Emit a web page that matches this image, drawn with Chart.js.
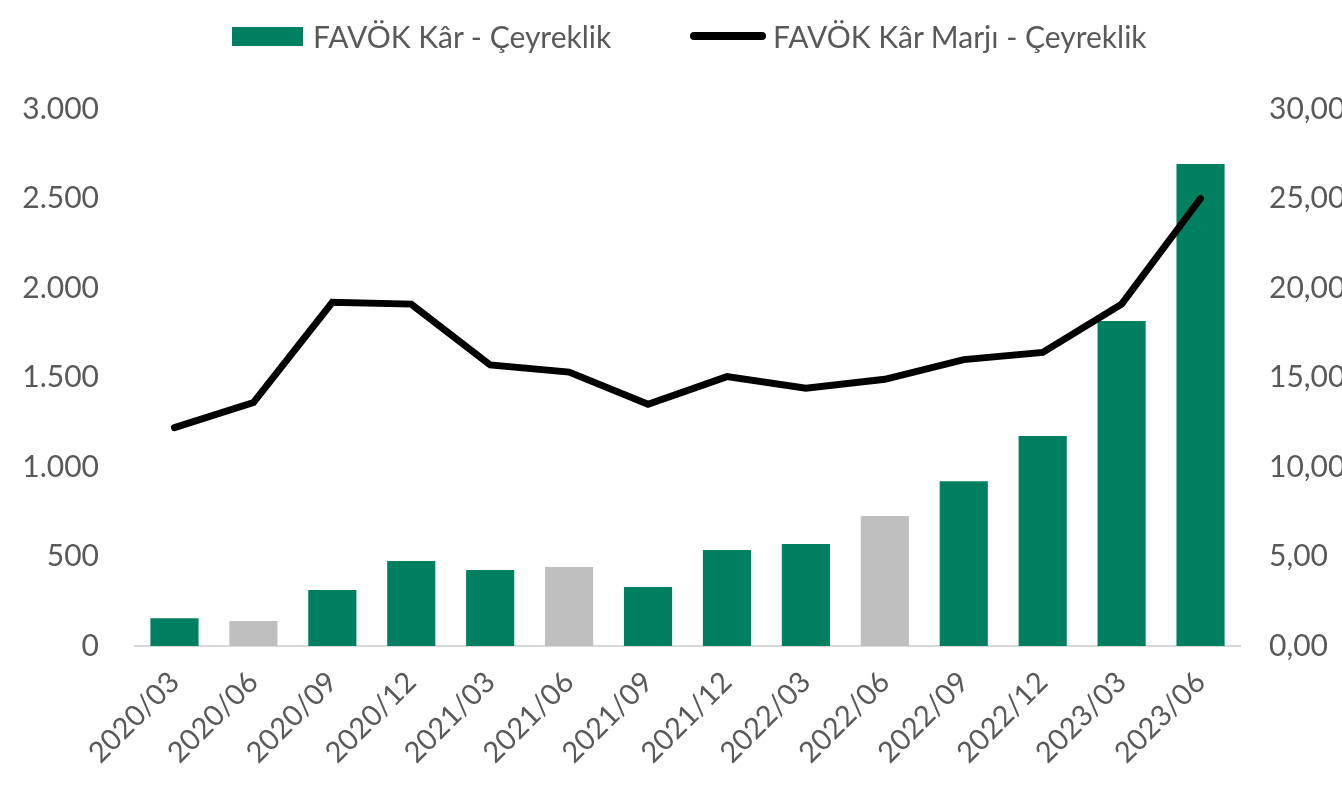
<!DOCTYPE html>
<html><head><meta charset="utf-8">
<script src="https://cdn.jsdelivr.net/npm/chart.js@4.4.0/dist/chart.umd.min.js"></script>
<style>
html,body{margin:0;padding:0;background:#fff;overflow:hidden}
#wrap{position:relative;width:1342px;height:785px}
#legend{position:absolute;top:0;left:0;width:1342px;height:70px;font-family:Lato,"Open Sans",sans-serif;font-size:30px;color:#595959}
.item{position:absolute;top:18px;height:36px;display:flex;align-items:center;white-space:nowrap}
</style></head><body>
<div id="wrap"><canvas id="c" width="1342" height="785"></canvas><div id="legend"></div></div>
<script>
// ---- data ----
const quarters = ['2020/03','2020/06','2020/09','2020/12','2021/03','2021/06','2021/09','2021/12','2022/03','2022/06','2022/09','2022/12','2023/03','2023/06'];
const favokKar = [155, 140, 313, 475, 425, 441, 330, 536, 570, 726, 920, 1173, 1815, 2693];
const favokMarj = [12.2, 13.6, 19.2, 19.1, 15.7, 15.3, 13.5, 15.05, 14.4, 14.9, 16.0, 16.4, 19.1, 25.0];
const grayQuarters = ['2020/06', '2021/06', '2022/06'];
const leftTickLabels = ['0', '500', '1.000', '1.500', '2.000', '2.500', '3.000'];
const rightTickLabels = ['0,00', '5,00', '10,00', '15,00', '20,00', '25,00', '30,00'];
const seriesNames = ['FAVÖK Kâr - Çeyreklik', 'FAVÖK Kâr Marjı - Çeyreklik'];

// ---- style ----
const GREEN = '#008060', GRAY = '#BFBFBF', TEXT = '#595959';
const FONT = 'Lato';
const barColors = quarters.map(q => grayQuarters.includes(q) ? GRAY : GREEN);

const ctx = document.getElementById('c').getContext('2d');
const chart = new Chart(ctx, {
  data: {
    labels: quarters,
    datasets: [
      { type: 'bar', label: seriesNames[0], data: favokKar, backgroundColor: barColors, borderWidth: 0,
        yAxisID: 'y', order: 2, barPercentage: 0.61, categoryPercentage: 1.0 },
      { type: 'line', label: seriesNames[1], data: favokMarj, borderColor: '#000', borderWidth: 7,
        pointRadius: 0, tension: 0, borderCapStyle: 'round', borderJoinStyle: 'miter', yAxisID: 'y1', order: 1 }
    ]
  },
  options: {
    responsive: false, devicePixelRatio: 1, animation: false,
    layout: { padding: { top: 109, left: 0, right: 0, bottom: 0 } },
    plugins: { legend: { display: false }, tooltip: { enabled: false } },
    scales: {
      x: {
        grid: { display: false },
        border: { display: true, color: '#D9D9D9', width: 2 },
        ticks: { color: TEXT, font: { family: FONT, size: 29 }, minRotation: 45, maxRotation: 45, padding: 11, autoSkip: false },
        afterFit: s => { s.height = 139; }
      },
      y: {
        position: 'left', min: 0, max: 3000,
        grid: { display: false }, border: { display: false },
        ticks: { stepSize: 500, color: TEXT, font: { family: FONT, size: 30 }, padding: 28,
          callback: (v, i) => leftTickLabels[i] },
        afterFit: s => { s.width = 135; }
      },
      y1: {
        position: 'right', min: 0, max: 30,
        grid: { display: false }, border: { display: false },
        ticks: { stepSize: 5, color: TEXT, font: { family: FONT, size: 30 }, padding: 21,
          callback: (v, i) => rightTickLabels[i] },
        afterFit: s => { s.width = 102; }
      }
    }
  }
});

// HTML legend built from chart datasets
const legend = document.getElementById('legend');
const legendLeft = [232, 690];
chart.data.datasets.forEach((ds, i) => {
  const it = document.createElement('div');
  it.className = 'item';
  it.style.left = legendLeft[i] + 'px';
  const sw = document.createElement('span');
  if (ds.type === 'bar') {
    sw.style.cssText = 'display:inline-block;width:71px;height:19px;background:' + GREEN + ';margin-right:10px';
  } else {
    sw.style.cssText = 'display:inline-block;width:76px;height:8px;border-radius:4px;background:#000;margin-right:7px';
  }
  const tx = document.createElement('span');
  tx.textContent = ds.label;
  it.appendChild(sw); it.appendChild(tx);
  legend.appendChild(it);
});
</script>
</body></html>
